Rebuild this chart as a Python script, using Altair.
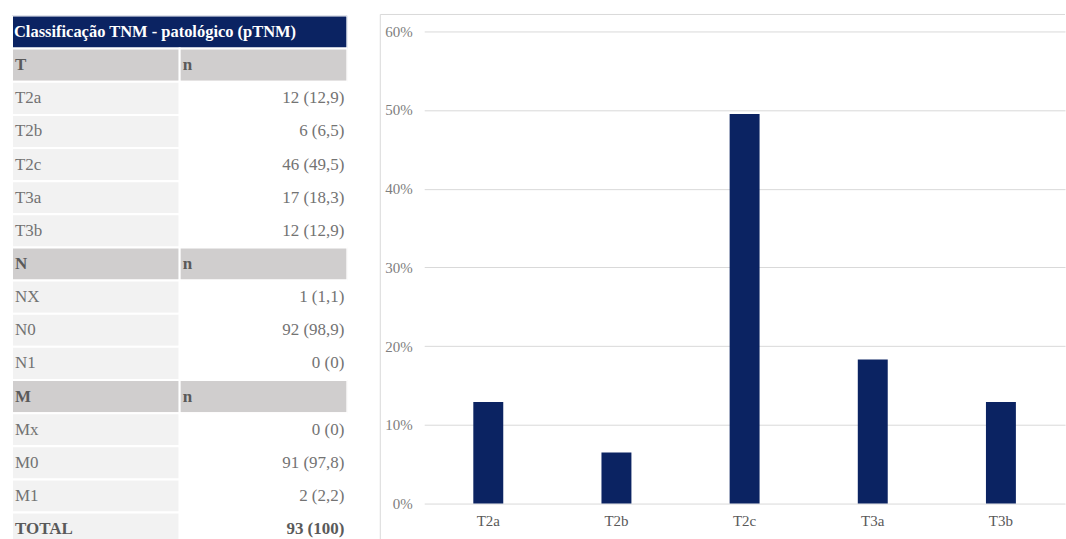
import altair as alt
import pandas as pd

TITLE = "Classificação TNM - patológico (pTNM)"

t_labels = ["T2a", "T2b", "T2c", "T3a", "T3b"]
t_counts = [12, 6, 46, 17, 12]
t_pcts = [12.9, 6.5, 49.5, 18.3, 12.9]

n_labels = ["NX", "N0", "N1"]
n_counts = [1, 92, 0]
n_pcts = [1.1, 98.9, 0]

m_labels = ["Mx", "M0", "M1"]
m_counts = [0, 91, 2]
m_pcts = [0, 97.8, 2.2]

total_count = 93
total_pct = 100

y_ticks = [0, 0.1, 0.2, 0.3, 0.4, 0.5, 0.6]

FONT = "Liberation Serif"
NAVY = "#0b2362"

TABLE_W, TABLE_H = 336, 526
ROW_PX = 33.2  # height of one table row
PLOT_W, PLOT_H = 642, 489


def fmt(n, p):
    return f"{n} ({f'{p:g}'.replace('.', ',')})"


# ---- table rows -------------------------------------------------------
rows = [("title", TITLE, "")]
for head, labels, counts, pcts in [
    ("T", t_labels, t_counts, t_pcts),
    ("N", n_labels, n_counts, n_pcts),
    ("M", m_labels, m_counts, m_pcts),
]:
    rows.append(("header", head, "n"))
    for lab, c, p in zip(labels, counts, pcts):
        rows.append(("data", lab, fmt(c, p)))
rows.append(("total", "TOTAL", fmt(total_count, total_pct)))

rows_df = pd.DataFrame(
    [
        {"r": i, "rm": i + 0.5, "kind": k, "label": a, "value": b}
        for i, (k, a, b) in enumerate(rows)
    ]
)

cells = []
for i, (k, a, b) in enumerate(rows):
    if k == "title":
        cells.append({"r": i, "r2": i + 1, "x0": 0, "x1": 2, "fill": "title"})
    else:
        cells.append({"r": i, "r2": i + 1, "x0": 0, "x1": 1, "fill": "head" if k == "header" else "left"})
        cells.append({"r": i, "r2": i + 1, "x0": 1, "x1": 2, "fill": "head" if k == "header" else "right"})
cells_df = pd.DataFrame(cells)

row_scale = alt.Scale(domain=[0, TABLE_H / ROW_PX], nice=False, zero=False, reverse=True)
x_scale = alt.Scale(domain=[0, 2], nice=False, zero=False)

cell_rects = alt.Chart(cells_df).mark_rect(stroke="white", strokeWidth=2, clip=True).encode(
    x=alt.X("x0:Q", axis=None, scale=x_scale),
    x2="x1:Q",
    y=alt.Y("r:Q", axis=None, scale=row_scale),
    y2="r2:Q",
    color=alt.Color(
        "fill:N",
        legend=None,
        scale=alt.Scale(
            domain=["title", "head", "left", "right"],
            range=[NAVY, "#d0cece", "#f2f2f2", "#ffffff"],
        ),
    ),
)

text_y = alt.Y("rm:Q", axis=None, scale=row_scale)


def table_text(filt, xpos, field, align, dx, color, bold=False, size=17):
    extra = {"fontWeight": "bold"} if bold else {}
    return (
        alt.Chart(rows_df)
        .transform_filter(filt)
        .mark_text(align=align, baseline="middle", dx=dx, font=FONT, fontSize=size,
                   color=color, clip=True, **extra)
        .encode(x=alt.datum(xpos), y=text_y, text=f"{field}:N")
    )


GREY_TXT = "#737373"
DARK_TXT = "#5a5a5a"

left_plain = table_text("datum.kind === 'data'", 0, "label", "left", 3, GREY_TXT)
left_bold = table_text("datum.kind === 'header' || datum.kind === 'total'", 0, "label", "left", 3, DARK_TXT, True)
n_head = table_text("datum.kind === 'header'", 1, "value", "left", 3, DARK_TXT, True)
right_plain = table_text("datum.kind === 'data'", 2, "value", "right", -3, GREY_TXT)
right_total = table_text("datum.kind === 'total'", 2, "value", "right", -3, DARK_TXT, True)
title_text = table_text("datum.kind === 'title'", 0, "label", "left", 2, "white", True, 16.5)

table = alt.layer(
    cell_rects, left_plain, left_bold, n_head, right_plain, right_total, title_text
).properties(width=TABLE_W, height=TABLE_H)

# ---- bar chart --------------------------------------------------------
bars_df = pd.DataFrame({"cat": t_labels, "pct": [p / 100 for p in t_pcts]})
one = pd.DataFrame({"k": [0]})

frame_top = alt.Chart(one).mark_rule(color="#d9d9d9", strokeWidth=1).encode(
    x=alt.value(-44), x2=alt.value(PLOT_W), y=alt.value(-1)
)
frame_left = alt.Chart(one).mark_rule(color="#d9d9d9", strokeWidth=1).encode(
    x=alt.value(-44), y=alt.value(-1), y2=alt.value(PLOT_H + 37)
)

bars = alt.Chart(bars_df).mark_bar(size=30, color=NAVY).encode(
    x=alt.X(
        "cat:N",
        sort=t_labels,
        scale=alt.Scale(paddingInner=0, paddingOuter=0),
        axis=alt.Axis(
            title=None, labelAngle=0, ticks=False, domain=False, labelPadding=10,
            labelFont=FONT, labelFontSize=15, labelColor="#595959", grid=False,
        ),
    ),
    y=alt.Y(
        "pct:Q",
        scale=alt.Scale(domain=[0, 0.62], nice=False),
        axis=alt.Axis(
            title=None, format=".0%", values=y_ticks, ticks=False, domain=False,
            labelPadding=12, labelFont=FONT, labelFontSize=15, labelColor="#7f7f7f",
            gridColor="#d9d9d9", gridWidth=1, minExtent=44, maxExtent=44,
        ),
    ),
)

bar_chart = alt.layer(frame_top, frame_left, bars).properties(width=PLOT_W, height=PLOT_H)

chart = (
    alt.hconcat(table, bar_chart, spacing=32)
    .properties(padding={"left": 12, "top": 13, "right": 0, "bottom": 0}, background="white")
    .configure_view(strokeWidth=0)
)

chart.save("out.html", embed_options={"renderer": "svg", "actions": False})
